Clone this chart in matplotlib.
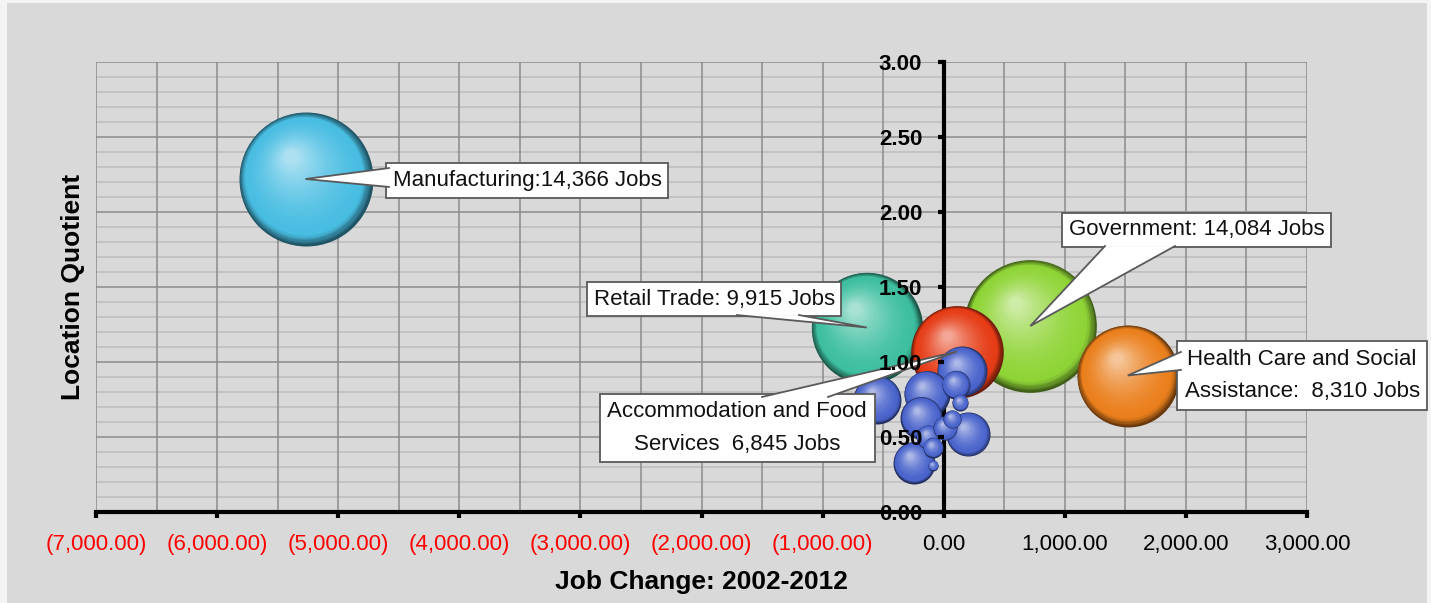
import matplotlib
matplotlib.use("Agg")
import matplotlib.pyplot as plt
import matplotlib.transforms as mtransforms
from matplotlib.patches import Rectangle
from matplotlib.ticker import FuncFormatter, MultipleLocator
from matplotlib.colors import to_rgb
import numpy as np

plt.rcParams["font.family"] = ["Liberation Sans Narrow", "Liberation Sans", "DejaVu Sans"]

# --- data ---
# x = job change 2002-2012, y = location quotient, size = jobs
labelled_industry = ["Manufacturing", "Government", "Retail Trade",
                     "Health Care and Social Assistance",
                     "Accommodation and Food Services"]
labelled_change = [-5270, 715, -635, 1520, 110]
labelled_lq = [2.22, 1.24, 1.23, 0.91, 1.07]
labelled_jobs = [14366, 14084, 9915, 8310, 6845]
labelled_color = ["#48bde2", "#8fd436", "#3dbf9f", "#ea7f1c", "#e63c16"]

other_change = [150, -550, -140, 100, 135, -185, 200, 70, 10, -130, -90, -245, -90]
other_lq = [0.94, 0.75, 0.79, 0.85, 0.73, 0.63, 0.52, 0.62, 0.56, 0.50, 0.43, 0.33, 0.31]
other_jobs = [2000, 1840, 1690, 630, 205, 1410, 1550, 260, 460, 460, 320, 1410, 80]
other_color = "#4a64cc"

callout_text = ["Manufacturing:14,366 Jobs", "Government: 14,084 Jobs",
                "Retail Trade: 9,915 Jobs",
                "Health Care and Social\nAssistance:  8,310 Jobs",
                "Accommodation and Food\nServices  6,845 Jobs"]
callout_pos = [(-3440, 2.21), (2090, 1.88), (-1895, 1.42), (2960, 0.91), (-1705, 0.56)]
# the two corners where each pointer leaves its box
callout_base = [((-4581, 2.293), (-4581, 2.167)),
                ((1332, 1.773), (1910, 1.773)),
                ((-1707, 1.313), (-1195, 1.313)),
                ((1959, 1.067), (1959, 0.947)),
                ((-1500, 0.767), (-955, 0.767))]

BG = "#d9d9d9"
EDGE = "#595959"
SIZE_K = 0.648  # points^2 per job


def mix(c1, c2, t):
    a, b = np.array(to_rgb(c1)), np.array(to_rgb(c2))
    return tuple(a + (b - a) * t)


def sphere(ax, fig, x, y, jobs, color, z):
    """Fake a shaded 3D bubble with stacked, offset scatter discs."""
    base = np.array(to_rgb(color))
    dark = tuple(base * 0.45)
    light = mix(color, "white", 0.55)
    s0 = jobs * SIZE_K
    r_pt = np.sqrt(s0) / 2
    n = 40
    for k in range(n):
        t = k / (n - 1)
        f = 1 - 0.9 * t
        dx = -0.22 * r_pt * t / 72
        dy = 0.34 * r_pt * t / 72
        if t < 0.12:
            c = mix(dark, color, t / 0.12)
        else:
            c = mix(color, light, ((t - 0.12) / 0.88) ** 1.6)
        tr = ax.transData + mtransforms.ScaledTranslation(dx, dy, fig.dpi_scale_trans)
        ax.scatter([x], [y], s=s0 * f * f, color=c, lw=0, transform=tr,
                   zorder=z + k * 1e-4)


fig = plt.figure(figsize=(14.31, 6.03), dpi=100)
fig.patch.set_facecolor("#f4f4f4")
fig.add_artist(Rectangle((7 / 1431, 0), 1420 / 1431, 1 - 3 / 603,
                         transform=fig.transFigure, facecolor=BG,
                         edgecolor="none", zorder=0))
ax = fig.add_axes([96 / 1431, 1 - 512 / 603, 1211 / 1431, 450 / 603])
ax.set_facecolor(BG)
ax.set_xlim(-7000, 3000)
ax.set_ylim(0, 3)

# grid (drawn by hand so it stays under the bubbles)
for gx in np.arange(-7000, 3001, 500):
    ax.axvline(gx, color="#8c8c8c", lw=1.1, zorder=0.5)
for gy in np.arange(0, 3.001, 0.1):
    major = abs(gy * 2 - round(gy * 2)) < 1e-6
    ax.axhline(gy, color="#8c8c8c" if major else "#bdbdbd",
               lw=1.1, zorder=0.6 if major else 0.4)

# bubbles, biggest first so small ones sit on top
all_x = labelled_change + other_change
all_y = labelled_lq + other_lq
all_jobs = labelled_jobs + other_jobs
all_col = labelled_color + [other_color] * len(other_jobs)
order = np.argsort(all_jobs, kind="stable")[::-1]
for i, idx in enumerate(order):
    sphere(ax, fig, all_x[idx], all_y[idx], all_jobs[idx], all_col[idx], 3 + i * 0.01)

# callouts: white box, then a wedge pointer that opens into it
for txt, pos, (b1, b2), x, y in zip(callout_text, callout_pos, callout_base,
                                    labelled_change, labelled_lq):
    two_lines = "\n" in txt
    ax.text(pos[0], pos[1], txt, ha="center", va="center", multialignment="center",
            fontsize=16, color="#111111", zorder=20,
            linespacing=1.7 if two_lines else 1.2,
            bbox=dict(boxstyle=f"square,pad={0.35 if two_lines else 0.3}",
                      fc="white", ec=EDGE, lw=1.3))
    px = [b1[0], x, b2[0]]
    py = [b1[1], y, b2[1]]
    ax.fill(px, py, color="white", lw=0, zorder=21)
    ax.plot(px, py, color=EDGE, lw=1.3, zorder=21, solid_joinstyle="miter")

# axes
for side in ["top", "right"]:
    ax.spines[side].set_visible(False)
ax.spines["left"].set_position(("data", 0))
ax.spines["left"].set_linewidth(3)
ax.spines["bottom"].set_linewidth(3)
ax.spines["left"].set_zorder(2)
ax.spines["bottom"].set_zorder(2)
ax.xaxis.set_zorder(25)
ax.yaxis.set_zorder(25)

ax.xaxis.set_major_locator(MultipleLocator(1000))
ax.yaxis.set_major_locator(MultipleLocator(0.5))


def fmt_x(v, pos):
    s = f"{abs(v):,.2f}"
    return f"({s})" if v < 0 else s


ax.xaxis.set_major_formatter(FuncFormatter(fmt_x))
ax.yaxis.set_major_formatter(FuncFormatter(lambda v, p: f"{v:.2f}"))
ax.tick_params(axis="x", direction="out", length=4.5, width=3, pad=11, labelsize=16)
ax.tick_params(axis="y", direction="out", length=4.5, width=3, pad=11, labelsize=16)
for lab in ax.get_yticklabels():
    lab.set_fontweight("bold")
fig.canvas.draw()
for tick, lab in zip(ax.get_xticks(), ax.get_xticklabels()):
    if tick < 0:
        lab.set_color("red")

ax.set_xlabel("Job Change: 2002-2012", fontsize=19, fontweight="bold")
ax.xaxis.set_label_coords(0.5, -0.128)
ax.set_ylabel("Location Quotient", fontsize=19, fontweight="bold")
ax.yaxis.set_label_coords(-0.009, 0.5)

fig.savefig("out.png", dpi=100, facecolor=fig.get_facecolor())
